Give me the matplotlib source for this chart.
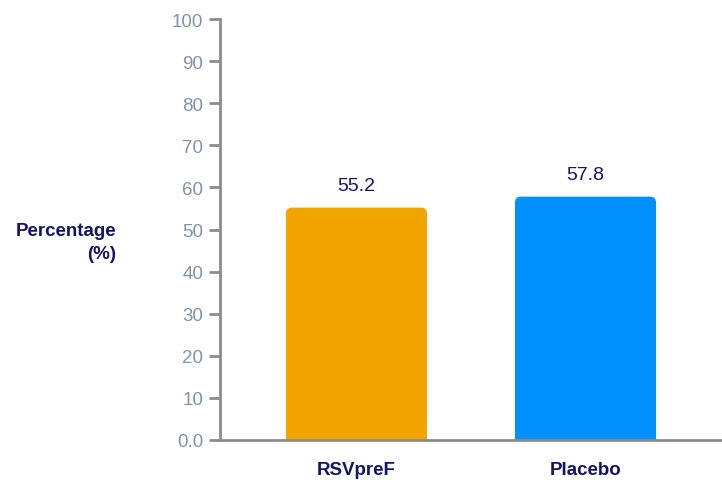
import matplotlib.pyplot as plt
from matplotlib.patches import FancyBboxPatch

plt.rcParams['font.family'] = ['Liberation Sans', 'DejaVu Sans']

# data
groups = ['RSVpreF', 'Placebo']
values = [55.2, 57.8]
value_labels = ['55.2', '57.8']
bar_colors = ['#f2a500', '#0091ff']
yticks = [0, 10, 20, 30, 40, 50, 60, 70, 80, 90, 100]
ytick_labels = ['0.0'] + [str(t) for t in yticks[1:]]

navy = '#15136b'
tick_col = '#7f93ad'
axis_col = '#8c8c8c'

fig = plt.figure(figsize=(7.22, 4.81), dpi=100)
ax = fig.add_axes([220 / 722, 1 - 441 / 481, 1 - 220 / 722, 421 / 481])

x = list(range(len(groups)))
width = 0.616
for xi, v, c, lab in zip(x, values, bar_colors, value_labels):
    # rounded top corners; bottom part is clipped below zero
    box = FancyBboxPatch((xi - width / 2, -10), width, v + 10,
                         boxstyle='round,pad=0,rounding_size=0.026',
                         mutation_aspect=55,
                         facecolor=c, edgecolor='none', clip_on=True)
    ax.add_patch(box)
    ax.text(xi, v + 3.3, lab, ha='center', va='bottom', color=navy, fontsize=14)

ax.set_xlim(-0.596, 1.596)
ax.set_ylim(0, 100)
ax.set_yticks(yticks)
ax.set_yticklabels(ytick_labels)
ax.set_xticks(x)
ax.set_xticklabels(groups, fontweight='bold', color=navy, fontsize=13.5)

ax.tick_params(axis='y', colors=axis_col, labelcolor=tick_col, labelsize=13.5,
               length=8, width=2, pad=4)
ax.tick_params(axis='x', length=0, pad=15)

for s in ['top', 'right']:
    ax.spines[s].set_visible(False)
for s in ['left', 'bottom']:
    ax.spines[s].set_color(axis_col)
    ax.spines[s].set_linewidth(2)

fig.text(116 / 722, 1 - 243 / 481, 'Percentage\n(%)', ha='right', va='center',
         color=navy, fontweight='bold', fontsize=13.5, linespacing=1.5)

fig.savefig('out.png', dpi=100)
